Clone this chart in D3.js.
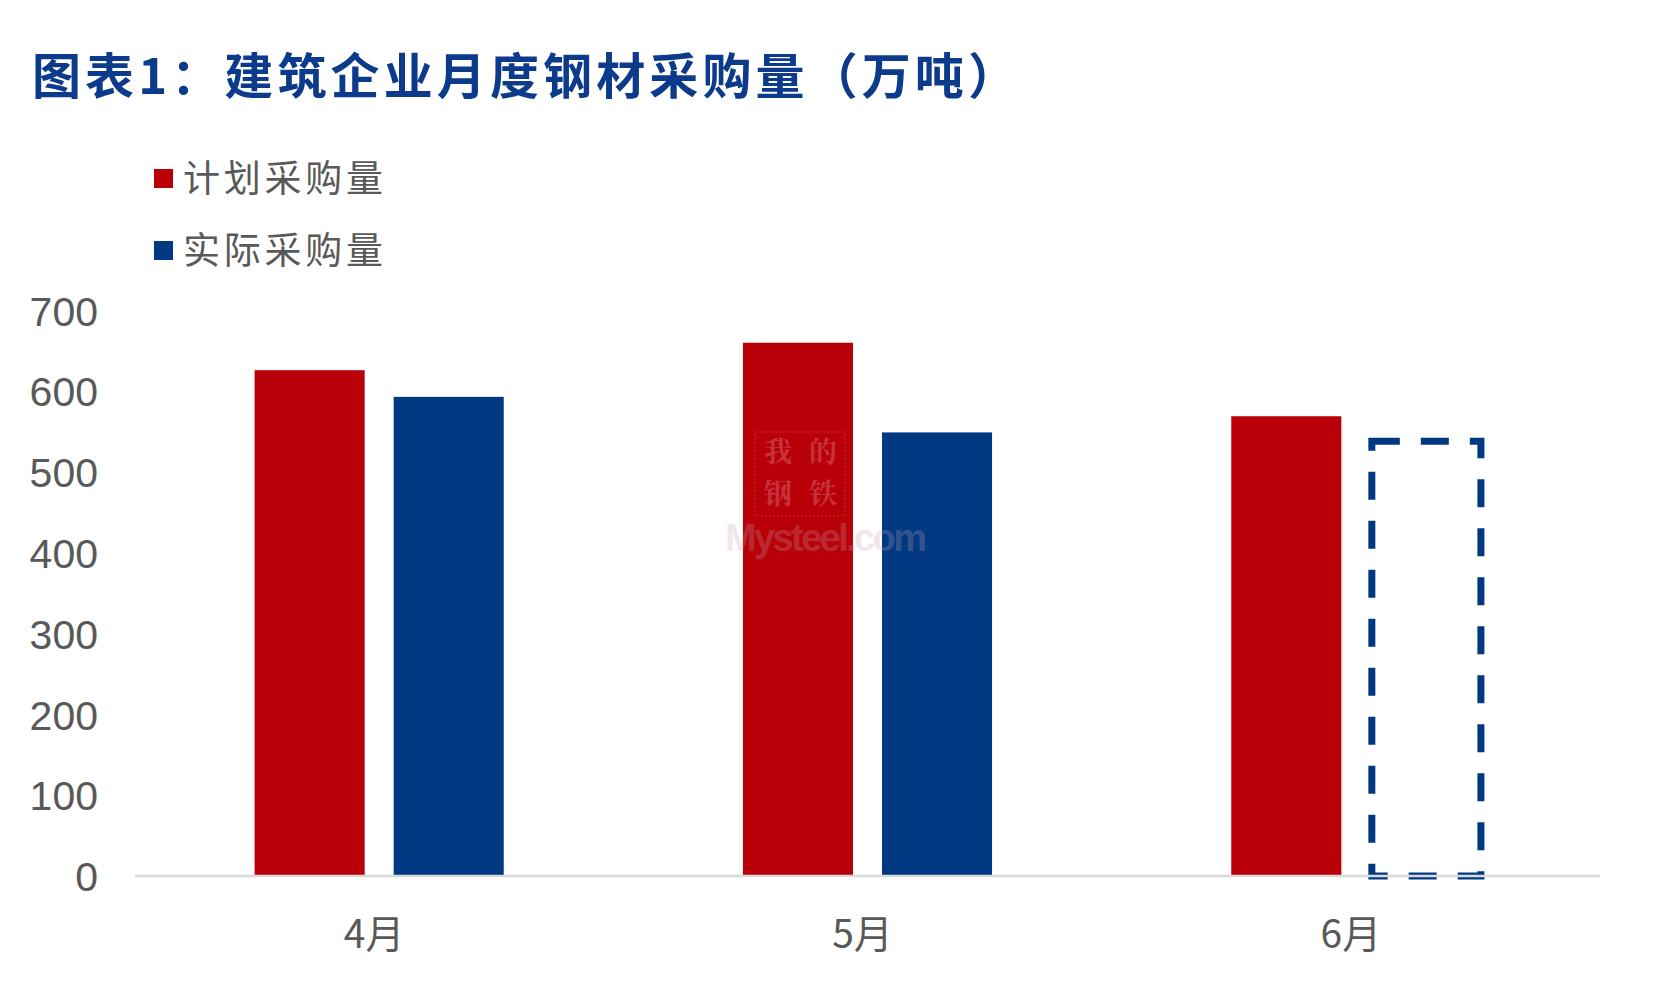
<!DOCTYPE html>
<html>
<head>
<meta charset="utf-8">
<script src="https://cdn.jsdelivr.net/npm/d3@7/dist/d3.min.js"></script>
<style>
  html, body { margin: 0; padding: 0; background: #ffffff; }
  svg { display: block; }
</style>
</head>
<body>
<svg id="chart" width="1653" height="993"></svg>
<script>
// ---- data ----
const title = "图表1：建筑企业月度钢材采购量（万吨）";
const categories = ["4月", "5月", "6月"];
const seriesNames = ["计划采购量", "实际采购量"];
const planned = [626, 660, 569];
const actual = [593, 549, 538];
const actualEstimated = [false, false, true];
const yTicks = [0, 100, 200, 300, 400, 500, 600, 700];
const watermarkChars = ["我", "的", "钢", "铁"];
const watermarkText = "Mysteel.com";

// ---- layout ----
const W = 1653, H = 993;
const plotLeft = 135, plotRight = 1600, plotTop = 310.4, plotBottom = 876;
const red = "#b90008", blue = "#003882", grey = "#595959";

const svg = d3.select("#chart");
svg.append("rect").attr("width", W).attr("height", H).attr("fill", "#fff");

const x0 = d3.scaleBand().domain(categories).range([plotLeft, plotRight]).paddingInner(0).paddingOuter(0);
const x1 = d3.scaleBand().domain(seriesNames).range([0, x0.bandwidth()]).paddingInner(0.2086).paddingOuter(0.86);
const y = d3.scaleLinear().domain([0, 700]).range([plotBottom, plotTop]);

// title
svg.append("text")
  .attr("x", 32).attr("y", 94)
  .attr("font-family", "'Noto Sans CJK SC', sans-serif")
  .attr("font-weight", 700)
  .attr("font-size", 49)
  .attr("fill", "#0d3b8c")
  .attr("textLength", 985)
  .attr("lengthAdjust", "spacing")
  .text(title);

// legend
const legendY = [179, 251];
const legendColors = [red, blue];
seriesNames.forEach((name, i) => {
  svg.append("rect")
    .attr("x", 154).attr("y", legendY[i] - 10)
    .attr("width", 19).attr("height", 19)
    .attr("fill", legendColors[i]);
  svg.append("text")
    .attr("x", 183).attr("y", legendY[i] + 13)
    .attr("font-family", "'Noto Sans CJK SC', sans-serif")
    .attr("font-size", 37)
    .attr("fill", grey)
    .attr("textLength", 200)
    .attr("lengthAdjust", "spacing")
    .text(name);
});

// bars
const groups = svg.append("g").selectAll("g")
  .data(categories)
  .join("g")
  .attr("transform", d => `translate(${x0(d)},0)`);

groups.append("rect")
  .attr("x", x1(seriesNames[0]))
  .attr("width", x1.bandwidth())
  .attr("y", (d, i) => y(planned[i]))
  .attr("height", (d, i) => y(0) - y(planned[i]))
  .attr("fill", red);

groups.each(function (d, i) {
  const g = d3.select(this);
  if (!actualEstimated[i]) {
    g.append("rect")
      .attr("x", x1(seriesNames[1]))
      .attr("width", x1.bandwidth())
      .attr("y", y(actual[i]))
      .attr("height", y(0) - y(actual[i]))
      .attr("fill", blue);
  }
});

// axis line
svg.append("line")
  .attr("x1", plotLeft).attr("x2", plotRight)
  .attr("y1", y(0)).attr("y2", y(0))
  .attr("stroke", "#d9d9d9").attr("stroke-width", 2.5);

// estimated (dashed) bars on top
groups.each(function (d, i) {
  const g = d3.select(this);
  if (actualEstimated[i]) {
    g.append("rect")
      .attr("x", x1(seriesNames[1]) + 1.5)
      .attr("width", x1.bandwidth() - 1)
      .attr("y", y(actual[i]))
      .attr("height", y(0) - y(actual[i]))
      .attr("fill", "none")
      .attr("stroke", blue)
      .attr("stroke-width", 7)
      .attr("stroke-dasharray", "28 21");
  }
});

// watermark (faint overlay)
const wm = svg.append("g").attr("opacity", 0.25);
watermarkChars.forEach((c, i) => {
  const cx = 778 + (i % 2) * 45;
  const base = i < 2 ? 462 : 504;
  wm.append("text")
    .attr("x", cx).attr("y", base)
    .attr("text-anchor", "middle")
    .attr("font-family", "'Noto Serif CJK SC', 'Noto Sans CJK SC', serif")
    .attr("font-weight", 700)
    .attr("font-size", 28)
    .attr("fill", "#f0c8d4")
    .text(c);
});
wm.append("rect").attr("x", 755).attr("y", 432).attr("width", 90).attr("height", 84)
  .attr("fill", "none").attr("stroke", "#f0c8d4").attr("stroke-width", 1).attr("stroke-dasharray", "2 2");
wm.append("text")
  .attr("x", 725).attr("y", 551)
  .attr("font-family", "'Liberation Sans', Arial, sans-serif")
  .attr("font-weight", 700)
  .attr("font-size", 38)
  .attr("fill", "#c8a0b0")
  .attr("textLength", 202)
  .text(watermarkText);

// y axis labels
const yAxis = d3.axisLeft(y).tickValues(yTicks).tickSize(0).tickPadding(0);
const yg = svg.append("g").attr("transform", "translate(98,0)").call(yAxis);
yg.select(".domain").remove();
yg.selectAll("text")
  .attr("font-family", "'Liberation Sans', Arial, sans-serif")
  .attr("font-size", 41)
  .attr("fill", grey)
  .attr("dy", "0.36em");

// x axis labels
const xAxis = d3.axisBottom(x0).tickSize(0).tickPadding(0);
const xg = svg.append("g").attr("transform", "translate(-5,0)").call(xAxis);
xg.select(".domain").remove();
xg.selectAll("text")
  .attr("y", 948)
  .attr("dy", 0)
  .attr("font-family", "'Noto Sans CJK SC', sans-serif")
  .attr("font-size", 39)
  .attr("fill", grey);
</script>
</body>
</html>
